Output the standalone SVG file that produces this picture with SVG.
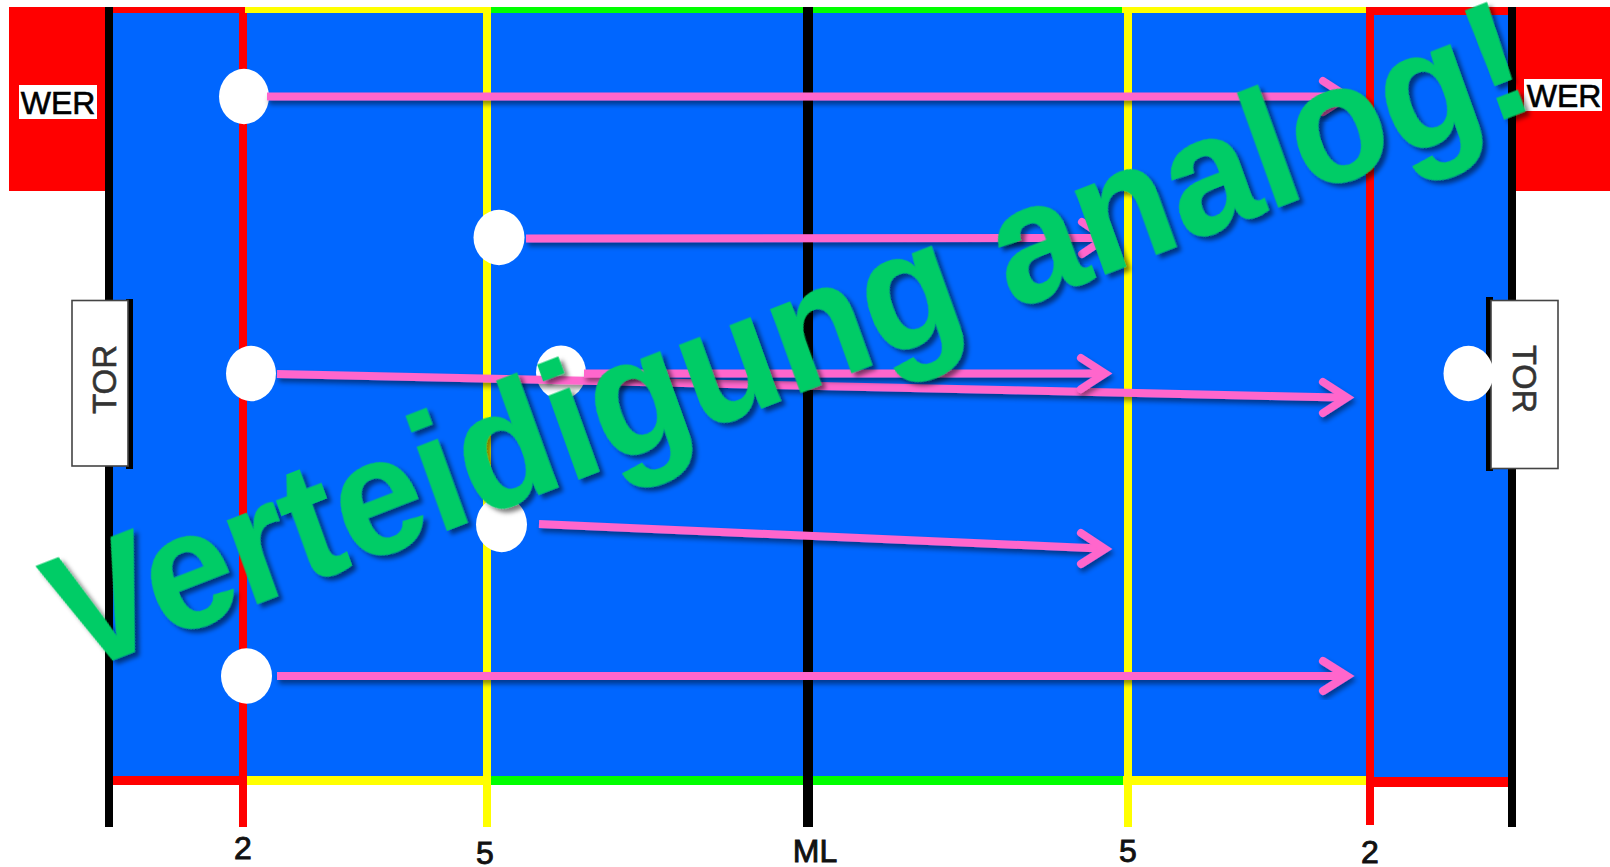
<svg xmlns="http://www.w3.org/2000/svg" width="1610" height="867" viewBox="0 0 1610 867">
<defs>
<style>
text{font-family:"Liberation Sans",Arial,sans-serif}
.lab{font-size:32px;fill:#111;text-anchor:middle;stroke:#111;stroke-width:.9}
.wer{font-size:32px;fill:#000;text-anchor:middle;stroke:#000;stroke-width:.6}
.tor{font-size:34px;fill:#333;text-anchor:middle;stroke:#333;stroke-width:.6}
.p{fill:#fff}
.a{fill:none;stroke:#ff66cc;stroke-width:8;stroke-linecap:butt}
.h{fill:none;stroke:#ff66cc;stroke-width:8;stroke-linecap:round;stroke-linejoin:miter;stroke-miterlimit:6}
.box{fill:#fff;stroke:#444;stroke-width:1.6}
</style>
<filter id="sh" x="-5%" y="-30%" width="110%" height="160%"><feDropShadow dx="2" dy="4" stdDeviation="2.5" flood-color="#000" flood-opacity=".45"/></filter>
<filter id="sht" x="-5%" y="-10%" width="110%" height="120%"><feDropShadow dx="3" dy="5" stdDeviation="2" flood-color="#000" flood-opacity=".5"/></filter>
</defs>
<g id="field">
<rect x="9" y="7" width="96" height="184" fill="#f00"/>
<rect x="1516" y="7" width="94" height="184" fill="#f00"/>
<rect x="113" y="13" width="1395" height="764" fill="#06f"/>
<rect x="113" y="7" width="132" height="6" fill="#f00"/>
<rect x="245" y="7" width="246" height="6" fill="#ff0"/>
<rect x="491" y="7" width="631" height="6" fill="#0f0"/>
<rect x="1122" y="7" width="244" height="6" fill="#ff0"/>
<rect x="1366" y="7" width="142" height="8" fill="#f00"/>
<rect x="113" y="776" width="132" height="9" fill="#f00"/>
<rect x="245" y="776" width="246" height="9" fill="#ff0"/>
<rect x="491" y="776" width="632" height="9" fill="#0f0"/>
<rect x="1123" y="776" width="246" height="9" fill="#ff0"/>
<rect x="1369" y="777" width="141" height="10" fill="#f00"/>
<rect x="105" y="7" width="8" height="820" fill="#000"/>
<rect x="1508" y="7" width="8" height="820" fill="#000"/>
<rect x="239" y="13" width="8" height="814" fill="#f00"/>
<rect x="483" y="13" width="8" height="814" fill="#ff0"/>
<rect x="803" y="7" width="10" height="820" fill="#000"/>
<rect x="1124" y="7" width="8" height="820" fill="#ff0"/>
<rect x="1366" y="13" width="8" height="812" fill="#f00"/>
</g>
<g id="wer-left"><rect x="19" y="85" width="78" height="34" fill="#fff"/><text class="wer" x="58" y="114">WER</text></g>
<g id="wer-right"><rect x="1524" y="79" width="78" height="32" fill="#fff"/><text class="wer" x="1564" y="107">WER</text></g>
<g id="tor-left"><rect x="126" y="299" width="7" height="170" fill="#000"/><rect class="box" x="72" y="300.500" width="56" height="165.500"/><text class="tor" transform="translate(116 379.500) rotate(-90)" textLength="69" lengthAdjust="spacingAndGlyphs">TOR</text></g>
<g id="tor-right"><rect x="1486" y="297" width="7" height="174" fill="#000"/><rect class="box" x="1491" y="300.500" width="67" height="168"/><text class="tor" transform="translate(1513 379) rotate(90)" textLength="68" lengthAdjust="spacingAndGlyphs">TOR</text></g>
<g id="player-1"><ellipse class="p" cx="244" cy="96.500" rx="25" ry="27.700"/></g>
<g id="player-2"><ellipse class="p" cx="499" cy="237.500" rx="25.500" ry="27.700"/></g>
<g id="player-3"><ellipse class="p" cx="251" cy="373.500" rx="25" ry="27.700"/></g>
<g id="player-4"><ellipse class="p" cx="561" cy="372.500" rx="25" ry="27"/></g>
<g id="player-5"><ellipse class="p" cx="501.500" cy="524.500" rx="25.500" ry="27.700"/></g>
<g id="player-6"><ellipse class="p" cx="246.500" cy="676" rx="25.500" ry="27.700"/></g>
<g id="player-7"><ellipse class="p" cx="1468.500" cy="373.500" rx="25" ry="27.700"/></g>
<g id="connectors">
<g filter="url(#sh)"><path class="a" d="M267 96.500H1340"/><path class="h" d="M1323 81L1347 96.500L1323 112"/></g>
<g filter="url(#sh)"><path class="a" d="M526 238.500L1100 238"/><path class="h" d="M1082 222L1106 238L1082 254"/></g>
<g filter="url(#sh)"><path class="a" d="M277 374L1340 397.500"/><path class="h" d="M1323 382L1347 397.500L1323 413"/></g>
<g filter="url(#sh)"><path class="a" d="M584 373.500H1100"/><path class="h" d="M1081 358L1105 373.500L1081 389"/></g>
<g filter="url(#sh)"><path class="a" d="M539 524L1100 548.500"/><path class="h" d="M1081 533L1105 549L1081 564"/></g>
<g filter="url(#sh)"><path class="a" d="M277 676H1340"/><path class="h" d="M1323 661L1347 676L1323 691"/></g>
</g>
<g id="labels">
<text class="lab" x="243" y="859">2</text>
<text class="lab" x="485" y="864">5</text>
<text class="lab" x="815" y="862">ML</text>
<text class="lab" x="1128" y="862">5</text>
<text class="lab" x="1370" y="863">2</text>
</g>
<text id="banner" transform="translate(74 675) rotate(-21.240) skewX(-1.500) scale(1 1.05)" font-size="159" font-weight="bold" fill="#00cc66" stroke="#00cc66" stroke-width=".8" filter="url(#sht)">Verteidigung analog!</text>
</svg>
